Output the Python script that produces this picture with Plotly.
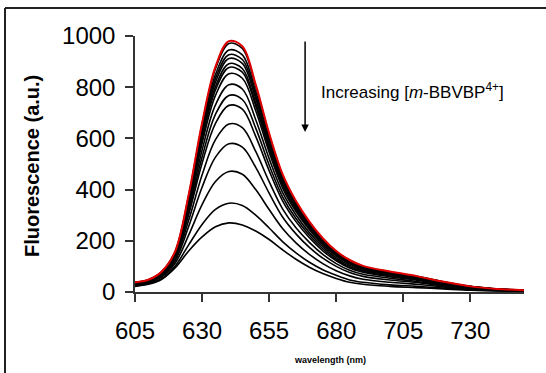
import plotly.graph_objects as go

wavelength = [605, 610, 615, 620, 625, 630, 635, 640, 645, 650, 655, 660, 665, 670,
              675, 680, 685, 690, 700, 710, 720, 730, 740, 750]

# Black titration curves (decreasing fluorescence with increasing quencher)
curves_black = [
    [38, 48, 80, 159, 377, 654, 872, 971, 951, 803, 615, 456, 352, 273, 208, 159, 124, 101, 79, 61, 40, 22, 12, 7],
    [37, 47, 79, 157, 369, 638, 849, 945, 926, 782, 600, 446, 344, 266, 203, 155, 121, 98, 77, 60, 39, 21, 12, 7],
    [37, 47, 78, 155, 364, 627, 834, 927, 908, 768, 589, 438, 338, 262, 200, 152, 119, 97, 76, 59, 38, 21, 11, 7],
    [36, 46, 77, 154, 359, 617, 820, 912, 893, 755, 580, 432, 333, 258, 197, 150, 117, 95, 74, 58, 37, 21, 11, 7],
    [36, 46, 76, 152, 353, 605, 803, 892, 873, 739, 569, 423, 327, 253, 193, 147, 114, 93, 73, 56, 37, 20, 11, 7],
    [36, 45, 76, 151, 348, 595, 789, 877, 859, 727, 560, 417, 322, 249, 190, 144, 112, 92, 72, 55, 36, 20, 11, 6],
    [35, 45, 75, 148, 341, 580, 768, 853, 835, 708, 546, 407, 314, 243, 185, 141, 109, 89, 70, 54, 35, 19, 11, 6],
    [34, 44, 73, 145, 327, 554, 731, 810, 793, 673, 521, 389, 301, 232, 177, 134, 104, 85, 66, 51, 33, 18, 10, 6],
    [33, 43, 71, 141, 314, 527, 694, 768, 752, 640, 496, 372, 287, 222, 169, 128, 99, 81, 63, 49, 32, 18, 10, 6],
    [32, 42, 69, 137, 302, 503, 659, 729, 714, 608, 474, 356, 275, 212, 161, 122, 94, 77, 60, 46, 30, 17, 9, 6],
    [31, 40, 66, 130, 280, 457, 595, 656, 642, 549, 431, 325, 251, 194, 147, 111, 85, 69, 54, 41, 27, 15, 8, 5],
    [29, 38, 63, 123, 256, 409, 527, 579, 566, 487, 386, 293, 227, 174, 132, 100, 76, 61, 47, 37, 24, 14, 7, 5],
    [27, 35, 59, 113, 222, 341, 432, 471, 460, 400, 322, 248, 192, 147, 111, 83, 63, 50, 38, 30, 20, 11, 6, 4],
    [24, 32, 53, 102, 184, 264, 323, 347, 338, 300, 250, 197, 153, 116, 87, 65, 47, 38, 28, 22, 15, 9, 5, 3],
    [22, 30, 50, 95, 160, 215, 255, 270, 262, 238, 205, 165, 128, 97, 72, 53, 38, 30, 22, 17, 12, 7, 4, 3],
]

# Red curve: no quencher
curve_red = [38, 48, 80, 160, 380, 660, 880, 980, 960, 810, 620, 460, 355, 275, 210,
             160, 125, 102, 80, 62, 40, 22, 12, 7]

x_ticks = [605, 630, 655, 680, 705, 730]
y_ticks = [0, 200, 400, 600, 800, 1000]

FONT = "Liberation Sans, Arial, sans-serif"

fig = go.Figure()
for ys in curves_black:
    fig.add_trace(go.Scatter(x=wavelength, y=ys, mode="lines",
                             line=dict(color="black", width=1.6, shape="spline"),
                             showlegend=False, hoverinfo="skip"))
fig.add_trace(go.Scatter(x=wavelength, y=curve_red, mode="lines",
                         line=dict(color="#e00000", width=2, shape="spline"),
                         showlegend=False, hoverinfo="skip"))

fig.update_layout(
    width=546, height=373,
    margin=dict(l=135, r=22, t=36, b=81),
    paper_bgcolor="white", plot_bgcolor="white",
    font=dict(family=FONT, color="black"),
    xaxis=dict(range=[605, 750], tickvals=x_ticks, ticks="outside", ticklen=8,
               tickwidth=1.5, tickcolor="#333", showline=True, linecolor="#333",
               linewidth=1.5, showgrid=False, zeroline=False,
               tickfont=dict(size=24, family=FONT), ticklabelstandoff=8),
    yaxis=dict(range=[0, 1000], tickvals=y_ticks, ticks="outside", ticklen=8,
               tickwidth=1.5, tickcolor="#333", showline=True, linecolor="#333",
               linewidth=1.5, showgrid=False, zeroline=False,
               tickfont=dict(size=24, family=FONT), ticklabelstandoff=5),
    annotations=[
        dict(text="<b>Fluorescence (a.u.)</b>", xref="paper", yref="paper",
             x=0, y=0.5, xshift=-103, yshift=-2, textangle=-90, showarrow=False,
             font=dict(size=20, family=FONT), xanchor="center", yanchor="middle"),
        dict(text="<b>wavelength (nm)</b>", xref="paper", yref="paper",
             x=0.5, y=0, yshift=-68, showarrow=False,
             font=dict(size=9, family=FONT), xanchor="center", yanchor="middle"),
        dict(text="", x=668.4, y=625, ax=668.4, ay=984, xref="x", yref="y",
             axref="x", ayref="y", showarrow=True, arrowhead=2, arrowsize=1,
             arrowwidth=1.5, arrowcolor="black"),
        dict(text="Increasing [<i>m</i>-BBVBP<sup>4+</sup>]", x=673.6, y=785,
             xref="x", yref="y", showarrow=False, xanchor="left", yanchor="middle",
             font=dict(size=17, family=FONT)),
    ],
    shapes=[
        dict(type="line", xref="paper", yref="paper", x0=-130/389, x1=-130/389,
             y0=-81/256, y1=284/256, line=dict(color="#222", width=2)),
        dict(type="line", xref="paper", yref="paper", x0=-130/389, x1=411/389,
             y0=284/256, y1=284/256, line=dict(color="#222", width=2)),
    ],
)

fig.write_html("out.html")
